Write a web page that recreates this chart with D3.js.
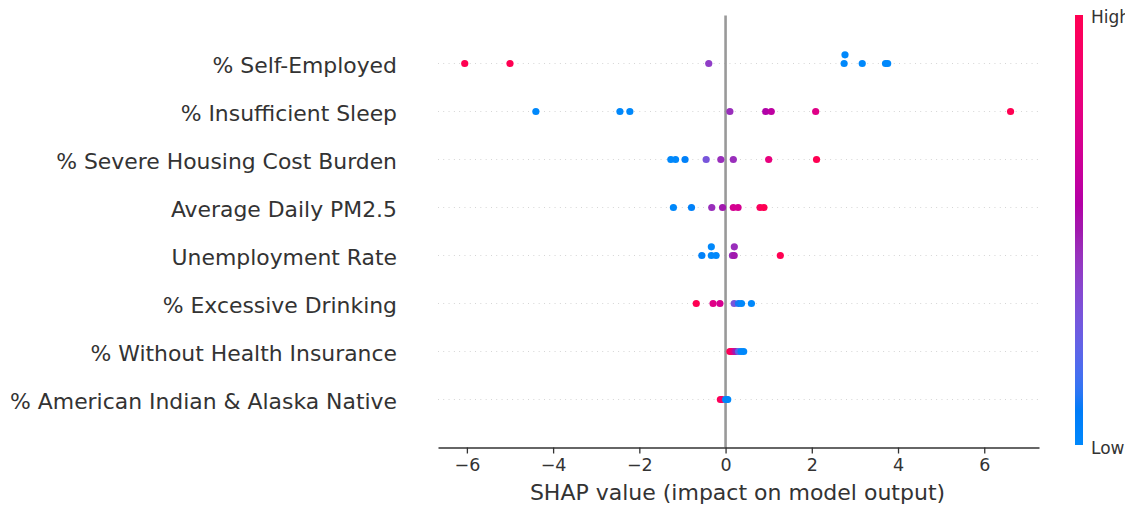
<!DOCTYPE html>
<html><head><meta charset="utf-8">
<script src="https://cdn.jsdelivr.net/npm/d3@7"></script>
<style>body{margin:0;background:#fff}svg{display:block}</style>
</head><body>
<svg id="chart" width="1125" height="505"></svg>
<script>
// Feature names, top to bottom
const features = [
  "% Self-Employed",
  "% Insufficient Sleep",
  "% Severe Housing Cost Burden",
  "Average Daily PM2.5",
  "Unemployment Rate",
  "% Excessive Drinking",
  "% Without Health Insurance",
  "% American Indian & Alaska Native"
];
// SHAP values per feature
const shapSelfEmployed   = [-6.05, -5.00, -0.39, 2.75, 2.77, 3.17, 3.71, 3.76];
const shapSleep          = [-4.40, -2.45, -2.22, 0.10, 0.93, 1.06, 2.09, 6.61];
const shapHousing        = [-1.27, -1.16, -0.94, -0.45, -0.11, 0.18, 1.00, 2.11];
const shapPM25           = [-1.21, -0.79, -0.32, -0.07, 0.18, 0.29, 0.80, 0.89];
const shapUnemployment   = [-0.55, -0.33, -0.33, -0.22, 0.16, 0.20, 0.203, 1.27];
const shapDrinking       = [-0.68, -0.29, -0.13, 0.20, 0.30, 0.37, 0.60];
const shapInsurance      = [0.10, 0.14, 0.19, 0.24, 0.30, 0.36, 0.42];
const shapNative         = [-0.12, -0.08, 0.00, 0.03, 0.05];
// Normalised feature values (0 = low, 1 = high)
const featSelfEmployed   = [1, 1, 0.4, 0, 0, 0, 0, 0];
const featSleep          = [0, 0, 0, 0.45, 0.55, 0.6, 0.75, 1];
const featHousing        = [0, 0, 0.05, 0.3, 0.45, 0.45, 0.8, 1];
const featPM25           = [0, 0.05, 0.45, 0.5, 0.7, 0.7, 0.95, 1];
const featUnemployment   = [0.05, 0, 0, 0, 0.45, 0.5, 0.45, 1];
const featDrinking       = [1, 0.75, 0.7, 0.3, 0.1, 0, 0];
const featInsurance      = [1, 0.95, 0.75, 0.5, 0.2, 0, 0];
const featNative         = [1, 0.9, 0, 0, 0];

const xTicks = [-6, -4, -2, 0, 2, 4, 6];
const xLabel = "SHAP value (impact on model output)";
const colorLabels = ["Low", "High"];

const shapRows = [shapSelfEmployed, shapSleep, shapHousing, shapPM25, shapUnemployment, shapDrinking, shapInsurance, shapNative];
const featRows = [featSelfEmployed, featSleep, featHousing, featPM25, featUnemployment, featDrinking, featInsurance, featNative];

// SHAP red_blue colormap in LCh space
function redBlue(t) {
  const l = t < 0.5 ? 54 + (40 - 54) * (t / 0.5) : 40 + (54 - 40) * ((t - 0.5) / 0.5);
  const c = 70 + 20 * t;
  const h = 266.93 + (380.32 - 266.93) * t;
  return d3.hcl(h % 360, c, l).formatHex();
}

const svg = d3.select("#chart");
const font = "DejaVu Sans";
const x = d3.scaleLinear().domain([-6.67, 7.27]).range([438, 1039]);
const y = d3.scaleLinear().domain([-1, 8]).range([447.5, 15.5]);
const nRows = features.length;
const rowPos = i => nRows - 1 - i;

// gridlines
svg.append("g").selectAll("line").data(features).join("line")
  .attr("x1", x.range()[0]).attr("x2", x.range()[1])
  .attr("y1", (d, i) => y(rowPos(i))).attr("y2", (d, i) => y(rowPos(i)))
  .attr("stroke", "#cccccc").attr("stroke-width", 0.9).attr("stroke-dasharray", "0.9 4.4");

// zero line
svg.append("line").attr("x1", x(0)).attr("x2", x(0)).attr("y1", y(8)).attr("y2", y(-1))
  .attr("stroke", "#999999").attr("stroke-width", 2.6);

// beeswarm offsets like shap
function offsets(vals) {
  const N = vals.length, mn = d3.min(vals), mx = d3.max(vals);
  const quant = vals.map(v => Math.round(100 * (v - mn) / (mx - mn + 1e-8)));
  const inds = d3.range(N).sort((a, b) => quant[a] - quant[b] || a - b);
  const ys = new Array(N).fill(0);
  let layer = 0, last = -1;
  for (const ind of inds) {
    if (quant[ind] !== last) layer = 0;
    ys[ind] = Math.ceil(layer / 2) * ((layer % 2) * 2 - 1);
    layer++; last = quant[ind];
  }
  const m = d3.max(ys.map(v => v + 1));
  return ys.map(v => v * 0.9 * (0.4 / m));
}

const pts = [];
shapRows.forEach((vals, i) => {
  const off = offsets(vals);
  vals.forEach((v, j) => pts.push({ v, f: featRows[i][j], yv: rowPos(i) + off[j] }));
});
svg.append("g").selectAll("circle").data(pts).join("circle")
  .attr("cx", d => x(d.v)).attr("cy", d => y(d.yv)).attr("r", 3.6)
  .attr("fill", d => redBlue(d.f));

// x axis
const ax = svg.append("g").attr("transform", `translate(0,${y(-1)})`)
  .call(d3.axisBottom(x).tickValues(xTicks).tickSize(6).tickPadding(5).tickSizeOuter(0));
ax.select(".domain").attr("stroke", "#333333").attr("stroke-width", 1.4);
ax.selectAll(".tick line").attr("stroke", "#333333").attr("stroke-width", 1.3);
ax.selectAll(".tick text").attr("fill", "#333333").attr("font-family", font).attr("font-size", 17.5);

svg.append("text").attr("x", (x.range()[0] + x.range()[1]) / 2 - 1).attr("y", 500)
  .attr("text-anchor", "middle").attr("font-family", font).attr("font-size", 22)
  .attr("fill", "#333333").text(xLabel);

// y labels
svg.append("g").selectAll("text").data(features).join("text")
  .attr("x", 397).attr("y", (d, i) => y(rowPos(i)) + 9.8)
  .attr("text-anchor", "end").attr("font-family", font).attr("font-size", 21.9)
  .attr("fill", "#333333").text(d => d);

// colorbar
const defs = svg.append("defs");
const grad = defs.append("linearGradient").attr("id", "cb").attr("x1", 0).attr("x2", 0).attr("y1", 1).attr("y2", 0);
d3.range(0, 1.0001, 0.02).forEach(t => grad.append("stop").attr("offset", t).attr("stop-color", redBlue(t)));
const cbScale = d3.scaleLinear().domain([0, 1]).range([445, 15]);
svg.append("rect").attr("x", 1075).attr("y", cbScale(1)).attr("width", 8)
  .attr("height", cbScale(0) - cbScale(1)).attr("fill", "url(#cb)");
svg.append("g").selectAll("text").data(colorLabels).join("text")
  .attr("x", 1091).attr("y", (d, i) => cbScale(i) + (i === 0 ? 3 : 1.5) + 6.2)
  .attr("font-family", font).attr("font-size", 17).attr("fill", "#333333").text(d => d);
</script>
</body></html>
